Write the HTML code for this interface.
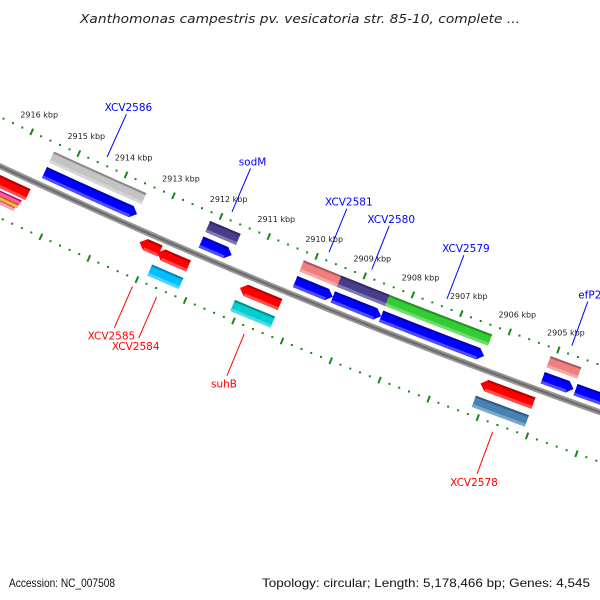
<!DOCTYPE html>
<html>
<head>
<meta charset="utf-8">
<style>
  html, body { margin:0; padding:0; background:#ffffff; }
  #chart { position:absolute; left:0; top:0; width:600px; height:600px; overflow:hidden; }
  text { font-family: "DejaVu Sans", "Liberation Sans", sans-serif; }
</style>
</head>
<body>
<div id="chart">
<svg id="svg" width="600" height="600" viewBox="0 0 600 600" xmlns="http://www.w3.org/2000/svg">
  <text x="300" y="23" text-anchor="middle" font-size="12" font-style="italic" fill="#222" textLength="440" lengthAdjust="spacingAndGlyphs">Xanthomonas campestris pv. vesicatoria str. 85-10, complete ...</text>
  <text x="9" y="587" font-size="12" fill="#111" style="font-family:'Liberation Sans',sans-serif" textLength="106" lengthAdjust="spacingAndGlyphs">Accession: NC_007508</text>
  <text x="590" y="587" font-size="12" fill="#111" text-anchor="end" style="font-family:'Liberation Sans',sans-serif" textLength="328" lengthAdjust="spacingAndGlyphs">Topology: circular; Length: 5,178,466 bp; Genes: 4,545</text>
  <g id="layer"></g>
</svg>
</div>
<script>
// ---- data ----
const featNames  = ['XCV2586','sodM','XCV2581','XCV2580','XCV2579','efP2','XCV2585','XCV2584','suhB','XCV2578'];
const featStart  = [2915.45, 2912.16, 2910.20, 2909.42, 2908.42, 2905.10, 2913.24, 2912.85, 2911.13, 2906.18];
const featEnd    = [2913.50, 2911.52, 2909.42, 2908.42, 2906.30, 2904.47, 2912.81, 2912.20, 2910.30, 2905.10];
const featStrand = [1, 1, 1, 1, 1, 1, -1, -1, -1, -1];
const geneColors = ['#c4c4c4','#483d8b','#f08080','#483d8b','#32cd32','#f08080',null,'#00bfff','#00ced1','#4682b4'];
const extraStart = [2917.90, 2904.43];
const extraEnd   = [2915.56, 2902.40];
const extraStrand = [-1, 1];
const tickMin = 2903, tickMax = 2918;
const labelMin = 2905, labelMax = 2916;

// ---- geometry (arc of circular genome) ----
const CX = 2863, CY = -5962, R0 = 6764, PHI0 = 114.92, DEG_PER_KBP = 0.442;
function P(k, r){
  const ph = (PHI0 - (2916 - k) * DEG_PER_KBP) * Math.PI / 180;
  const R = R0 + r;
  return [CX + R * Math.cos(ph), CY + R * Math.sin(ph)];
}
const NS = 'http://www.w3.org/2000/svg';
const layer = document.getElementById('layer');
function mk(tag, attrs){
  const e = document.createElementNS(NS, tag);
  for (const a in attrs) e.setAttribute(a, attrs[a]);
  layer.appendChild(e);
  return e;
}
function ptsStr(arr){ return arr.map(p => p[0].toFixed(2)+','+p[1].toFixed(2)).join(' '); }
function edge(k1, k2, r, n){ const out=[]; for(let i=0;i<=n;i++){ out.push(P(k1+(k2-k1)*i/n, r)); } return out; }
function shade(hex, f){
  const n = parseInt(hex.slice(1),16);
  let r=(n>>16)&255, g=(n>>8)&255, b=n&255;
  if (f<0){ r=r*(1+f); g=g*(1+f); b=b*(1+f); }
  else { r=r+(255-r)*f; g=g+(255-g)*f; b=b+(255-b)*f; }
  return 'rgb('+Math.round(r)+','+Math.round(g)+','+Math.round(b)+')';
}
const HEAD = 0.12;
function bar(k1, k2, r1, r2, color, dir, name){
  const rm = (r1+r2)/2;
  let a = k1, b = k2;
  if (dir === 1) b = k2 + HEAD;
  if (dir === -1) a = k1 - HEAD;
  let pts = edge(a, b, r1, 6);
  if (dir === 1) pts.push(P(k2, rm));
  pts = pts.concat(edge(b, a, r2, 6));
  if (dir === -1) pts.push(P(k1, rm));
  const g = mk('polygon', {points: ptsStr(pts), fill: color});
  
  
  const top = mk('polygon', {points: ptsStr(edge(a, b, r1, 6).concat(edge(b, a, r1+2, 6))), fill: shade(color, -0.3)});
  
  
  const bot = mk('polygon', {points: ptsStr(edge(a, b, r2-3, 6).concat(edge(b, a, r2, 6))), fill: shade(color, 0.3)});
  
  
}

// backbone
const bb = edge(tickMax+1, tickMin-1, 0, 40);
const bbLine = mk('polyline', {points: ptsStr(bb), fill:'none', stroke:'#9a9a9a', 'stroke-width':6});


const bbLine2 = mk('polyline', {points: ptsStr(bb), fill:'none', stroke:'#6e6e6e', 'stroke-width':2.5});



// scale lines (dots + major ticks)
const scaleR = [-44.5, 47];
scaleR.forEach(function(sr, si){
  for (let i = 0; i <= (tickMax - tickMin) * 5; i++){
    const k = tickMax - i * 0.2;
    const major = (i % 5 === 0);
    if (major){
      const p1 = P(k, sr-3.5), p2 = P(k, sr+3.5);
      const t = mk('line', {x1:p1[0], y1:p1[1], x2:p2[0], y2:p2[1], stroke:'#138a13', 'stroke-width':2});
      
      
      const kr = Math.round(k);
      if (si === 0 && kr >= labelMin && kr <= labelMax){
        const p = P(k, sr);
        const lb = mk('text', {x:(p[0]+7.5).toFixed(1), y:(p[1]-14.5).toFixed(1), 'font-size':8, 'text-anchor':'middle', fill:'#222'});
        lb.textContent = kr + ' kbp';
        
        
      }
    } else {
      const p = P(k, sr);
      const d = mk('rect', {x:(p[0]-1).toFixed(1), y:(p[1]-1).toFixed(1), width:2, height:2, fill:'#138a13'});
      
      
    }
  }
});

// extra unlabeled features
for (let i = 0; i < extraStart.length; i++){
  if (extraStrand[i] === 1) bar(extraStart[i], extraEnd[i], -19, -7, '#0000ff', 1, 'cds-unlabeled');
  else bar(extraStart[i], extraEnd[i], 8, 20, '#ff0000', -1, 'cds-unlabeled');
}
const stripeColors = ['#ff1493','#ff8c00','#f08080'];
const stripeEnd = [2915.62, 2915.64, 2915.68];
const stripeR = [[22,26.5],[26.5,31],[31,35]];
for (let i = 0; i < 3; i++){
  bar(2917.9, stripeEnd[i], stripeR[i][0], stripeR[i][1], stripeColors[i], 0, 'feature-stripe');
}

// labeled features
for (let i = 0; i < featNames.length; i++){
  const s = featStrand[i], k1 = featStart[i], k2 = featEnd[i];
  const id = featNames[i].toLowerCase();
  if (s === 1){
    if (geneColors[i]) bar(k1, k2, -36, -24, geneColors[i], 0, 'gene-' + id);
    bar(k1, k2, -19, -7, '#0000ff', 1, 'cds-' + id);
  } else {
    if (geneColors[i]) bar(k1, k2, 27, 39, geneColors[i], 0, 'gene-' + id);
    const off = (featNames[i] === 'XCV2585') ? -2.5 : 0;
    bar(k1, k2, 8 + off, 20 + off, '#ff0000', -1, 'cds-' + id);
  }
  const km = (k1 + k2) / 2;
  const col = s === 1 ? '#0000ff' : '#ff0000';
  const a = P(km, s === 1 ? -53 : 55), b = P(km, s === 1 ? -100 : 100);
  const ln = mk('line', {x1:a[0].toFixed(1), y1:a[1].toFixed(1), x2:b[0].toFixed(1), y2:b[1].toFixed(1), stroke:col, 'stroke-width':1});
  
  
  const tx = mk('text', {x:(b[0] + (s === 1 ? 2 : -3)).toFixed(1), y:(b[1] + (s === 1 ? -3 : 12)).toFixed(1), 'font-size':10.5, 'text-anchor':'middle', fill:col});
  tx.textContent = featNames[i];
  
  
}
</script>
</body>
</html>
